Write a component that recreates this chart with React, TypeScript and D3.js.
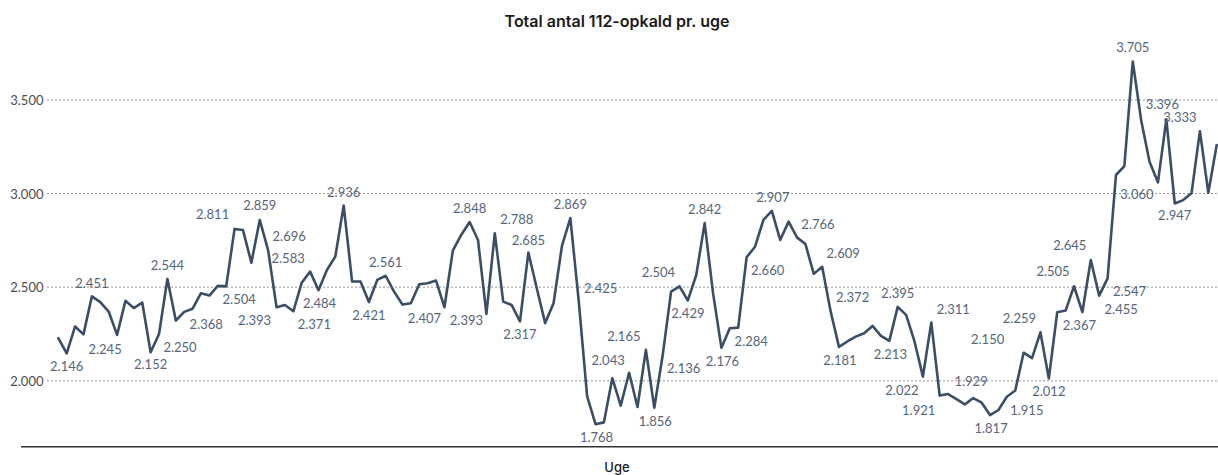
import React from "react";
import * as d3 from "d3";

const title = "Total antal 112-opkald pr. uge";
const xAxisTitle = "Uge";
const yTicks = [2000, 2500, 3000, 3500];

const weeklyCalls = [
  2228, 2146, 2290, 2248, 2451, 2420, 2370, 2245, 2427, 2388,
  2418, 2152, 2250, 2544, 2322, 2368, 2385, 2468, 2455, 2507,
  2504, 2811, 2805, 2631, 2859, 2696, 2393, 2405, 2371, 2524,
  2583, 2484, 2592, 2663, 2936, 2530, 2530, 2421, 2539, 2561,
  2476, 2407, 2414, 2516, 2521, 2535, 2393, 2695, 2779, 2848,
  2752, 2357, 2788, 2423, 2405, 2317, 2685, 2494, 2308, 2414,
  2720, 2869, 2425, 1917, 1768, 1778, 2014, 1867, 2043, 1860,
  2165, 1856, 2136, 2476, 2504, 2429, 2565, 2842, 2468, 2176,
  2281, 2284, 2660, 2716, 2859, 2907, 2752, 2850, 2766, 2731,
  2571, 2609, 2372, 2181, 2210, 2236, 2254, 2293, 2240, 2213,
  2395, 2352, 2210, 2022, 2311, 1921, 1929, 1902, 1874, 1908,
  1883, 1817, 1844, 1915, 1948, 2150, 2121, 2259, 2012, 2366,
  2375, 2505, 2367, 2645, 2455, 2547, 3099, 3147, 3705, 3392,
  3170, 3060, 3396, 2947, 2965, 3001, 3333, 3004, 3259,
];

const labelledWeeks = [
  1, 4, 7, 11, 12, 13, 15, 20, 21, 24, 25, 26, 28, 30, 31, 34, 37, 39, 41, 46,
  49, 52, 55, 56, 61, 62, 64, 68, 70, 71, 72, 74, 75, 77, 79, 81, 82, 85, 88, 91,
  92, 93, 99, 100, 103, 104, 105, 106, 111, 113, 115, 117, 118, 121, 122, 123,
  124, 125, 128, 131, 132, 133, 136,
];

// label placement relative to its point (layout only)
const labelOffset: Record<number, [number, number]> = {
  1: [0, 13], 4: [0, -13], 7: [-12, 14], 11: [0, 12], 12: [21, 13], 13: [0, -14],
  15: [22, 12], 20: [13, 13], 21: [-22, -15], 24: [0, -15], 25: [21, -14],
  26: [-22, 13], 28: [21, 13], 30: [-22, -14], 31: [1, 13], 34: [0, -14],
  37: [0, 13], 39: [0, -14], 41: [22, 13], 46: [22, 13], 49: [0, -14],
  52: [22, -14], 55: [0, 13], 56: [0, -13], 61: [0, -14], 62: [22, -13],
  64: [1, 13], 68: [-21, -13], 70: [-22, -14], 71: [1, 13], 72: [21, 13],
  74: [-21, -14], 75: [0, 13], 77: [0, -14], 79: [1, 13], 81: [13, 13],
  82: [21, 13], 85: [1, -14], 88: [21, -13], 91: [21, -14], 92: [22, -14],
  93: [1, 13], 99: [1, 13], 100: [0, -14], 103: [-21, 13], 104: [22, -14],
  105: [-21, 14], 106: [23, -13], 111: [1, 13], 113: [20, 13], 115: [-36, -14],
  117: [-21, -14], 118: [0, 12], 121: [-21, -15], 122: [-3, 13], 123: [-21, -15],
  124: [22, 13], 125: [22, 13], 128: [0, -15], 131: [-21, 12], 132: [-4, -15],
  133: [0, 12], 136: [-20, -14],
};

const W = 1218;
const H = 475;
const FONT = "Lato, 'Open Sans', sans-serif";
const TITLE_FONT = "Inter, Lato, sans-serif";

const da = d3.formatLocale({
  decimal: ",",
  thousands: ".",
  grouping: [3],
  currency: ["", " kr."],
});
const fmt = da.format(",d");

export default function App() {
  const x = d3
    .scaleLinear()
    .domain([0, weeklyCalls.length - 1])
    .range([58.3, 1216.7]);
  const y = d3.scaleLinear().domain([1648, 3820]).range([446.7, 40]);

  const line = d3
    .line<number>()
    .x((_, i) => x(i))
    .y((d) => y(d))
    .curve(d3.curveLinear);

  return (
    <svg
      width={W}
      height={H}
      style={{ position: "absolute", left: 0, top: 0, background: "#fff" }}
      fontFamily={FONT}
    >
      <text
        x={617}
        y={21}
        textAnchor="middle"
        dominantBaseline="central"
        fontSize={16}
        fontWeight={600}
        fontFamily={TITLE_FONT}
        fill="#1a1a1a"
      >
        {title}
      </text>

      {yTicks.map((t) => (
        <g key={t}>
          <line
            x1={47}
            x2={W}
            y1={y(t)}
            y2={y(t)}
            stroke="#9a9a9a"
            strokeWidth={1}
            strokeDasharray="2,2"
          />
          <text
            x={43.5}
            y={y(t)}
            textAnchor="end"
            dominantBaseline="central"
            fontSize={13}
            fill="#4d4d4d"
          >
            {fmt(t)}
          </text>
        </g>
      ))}

      <line
        x1={21}
        x2={W}
        y1={446.7}
        y2={446.7}
        stroke="#333"
        strokeWidth={1.6}
      />
      <text
        x={617}
        y={467}
        textAnchor="middle"
        dominantBaseline="central"
        fontSize={13}
        fontWeight={500}
        fontFamily={TITLE_FONT}
        fill="#1a1a1a"
      >
        {xAxisTitle}
      </text>

      <path
        d={line(weeklyCalls) || ""}
        fill="none"
        stroke="#3b4e66"
        strokeWidth={2.6}
        strokeLinejoin="round"
        strokeLinecap="round"
      />

      {labelledWeeks.map((i) => {
        const [dx, dy] = labelOffset[i] || [0, -14];
        return (
          <text
            key={i}
            x={x(i) + dx}
            y={y(weeklyCalls[i]) + dy}
            textAnchor="middle"
            dominantBaseline="central"
            fontSize={13}
            fill="#56657a"
          >
            {fmt(weeklyCalls[i])}
          </text>
        );
      })}
    </svg>
  );
}
